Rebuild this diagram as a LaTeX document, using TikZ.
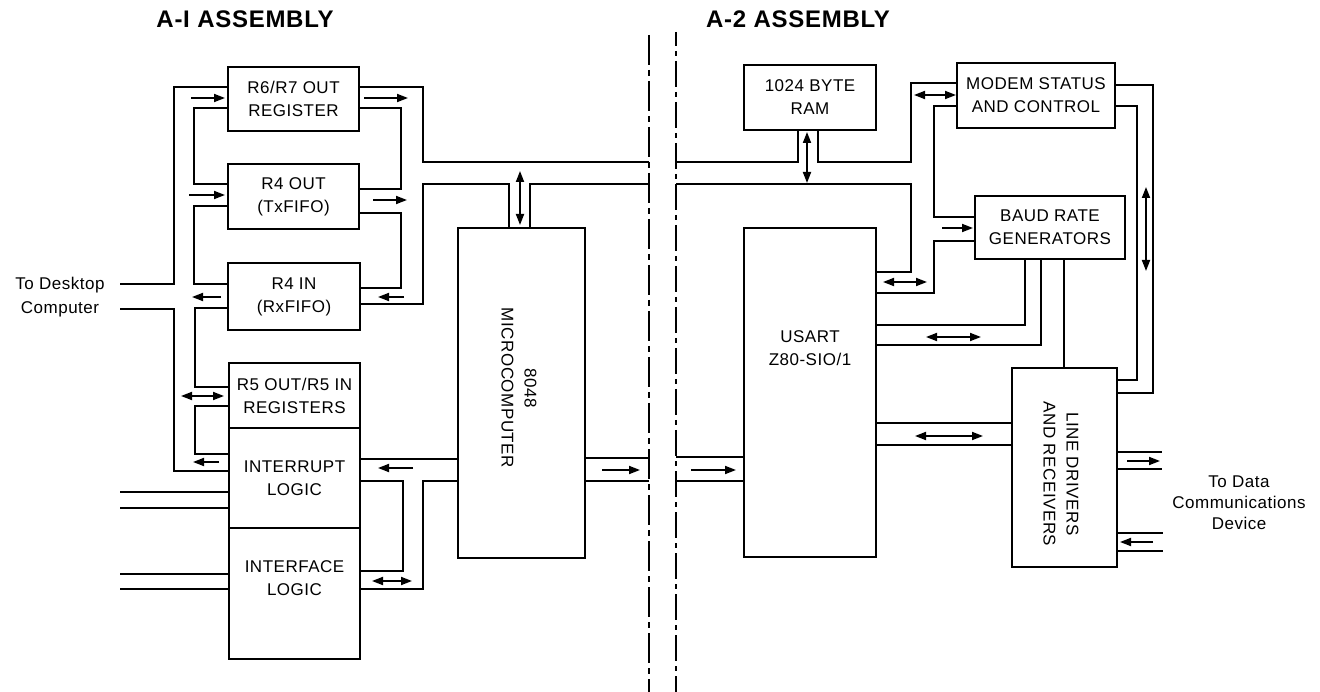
\documentclass[tikz,border=0pt]{standalone}
\usepackage{fontspec}
\setmainfont{Liberation Sans}[LetterSpace=3]
\usetikzlibrary{arrows.meta}
\newcommand\lblfont{\fontsize{17pt}{23pt}\selectfont}
\newcommand\ttlfont{\fontsize{24pt}{28pt}\selectfont\bfseries}
\tikzset{
  box/.style={draw, line width=1.8pt, inner sep=0pt, outer sep=0pt, anchor=north west, align=center, font=\lblfont},
  txt/.style={inner sep=0pt, align=center, font=\lblfont},
  bus/.style={line width=1.8pt, line join=miter},
  sig/.style={line width=1.8pt, -{Triangle[length=11pt,width=8pt]}},
  bidir/.style={line width=1.8pt, {Triangle[length=11pt,width=8pt]}-{Triangle[length=11pt,width=8pt]}},
  divA/.style={line width=1.8pt, dash pattern=on 30pt off 5pt on 6pt off 5pt},
  divB/.style={line width=1.8pt, dash pattern=on 26pt off 5pt on 5pt off 5pt, dash phase=12pt}
}
\begin{document}
\begin{tikzpicture}[x=1pt,y=-1pt]
\useasboundingbox (0,0) rectangle (1320,692);
% titles
\node[font=\ttlfont, inner sep=0pt] (t1) at (245,19) {A-I ASSEMBLY};
\node[font=\ttlfont, inner sep=0pt] (t2) at (798,19) {A-2 ASSEMBLY};
% divider lines
\coordinate (dA1) at (649,35); \coordinate (dA2) at (649,692);
\coordinate (dB1) at (676,32); \coordinate (dB2) at (676,692);
\draw[divA] (dA1) -- (dA2);
\draw[divB] (dB1) -- (dB2);
% boxes A-1
\node[box, minimum width=131pt, minimum height=64pt] (r67) at (228,67) {R6/R7 OUT\\REGISTER};
\node[box, minimum width=131pt, minimum height=65pt] (r4o) at (228,164) {R4 OUT\\(TxFIFO)};
\node[box, minimum width=132pt, minimum height=67pt] (r4i) at (228,263) {R4 IN\\(RxFIFO)};
\node[box, minimum width=131pt, minimum height=65pt] (r5) at (229,363) {R5 OUT/R5 IN\\REGISTERS};
\node[box, minimum width=131pt, minimum height=100pt] (intr) at (229,428) {INTERRUPT\\LOGIC};
\node[box, minimum width=131pt, minimum height=131pt] (intf) at (229,528) {};
\node[txt] (intft) at (294.5,578) {INTERFACE\\LOGIC};
\node[box, minimum width=127pt, minimum height=330pt] (mc) at (458,228) {};
\node[txt, rotate=-90] (mct) at (519,388) {8048\\MICROCOMPUTER};
% boxes A-2
\node[box, minimum width=132pt, minimum height=65pt] (ram) at (744,65) {1024 BYTE\\RAM};
\node[box, minimum width=158pt, minimum height=65pt] (modem) at (957,63) {MODEM STATUS\\AND CONTROL};
\node[box, minimum width=150pt, minimum height=63pt] (baud) at (975,196) {BAUD RATE\\GENERATORS};
\node[box, minimum width=132pt, minimum height=329pt] (usart) at (744,228) {};
\node[txt] (usartt) at (810,348) {USART\\Z80-SIO/1};
\node[box, minimum width=105pt, minimum height=199pt] (line) at (1012,368) {};
\node[txt, rotate=-90] (linet) at (1061,474) {LINE DRIVERS\\AND RECEIVERS};
% side labels
\node[txt, font=\fontsize{17pt}{24pt}\selectfont] (desk) at (60,297) {To Desktop\\Computer};
\node[txt, font=\fontsize{17pt}{21pt}\selectfont] (dcd) at (1239,503) {To Data\\Communications\\Device};

% ---------- A-1 buses ----------
\draw[bus] (120,284) -- (174,284) -- (174,87) -- (228,87);
\draw[bus] (120,309) -- (174,309) -- (174,471) -- (229,471);
\draw[bus] (228,108) -- (194,108) -- (194,184) -- (228,184);
\draw[sig] (191,98) -- (225,98);
\draw[bus] (228,206) -- (194,206) -- (194,284) -- (228,284);
\draw[sig] (189,195) -- (225,195);
\draw[bus] (228,308) -- (195,308) -- (195,387) -- (229,387);
\draw[sig] (221,297) -- (192,297);
\draw[bus] (229,406) -- (195,406) -- (195,454) -- (229,454);
\draw[bidir] (181,396) -- (224,396);
\draw[sig] (219,462) -- (193,462);
% right of registers
\draw[bus] (359,87) -- (423,87) -- (423,162) -- (649,162);
\draw[sig] (364,98) -- (408,98);
\draw[bus] (359,108) -- (401,108) -- (401,189) -- (359,189);
\draw[bus] (359,213) -- (401,213) -- (401,288) -- (360,288);
\draw[sig] (373,200) -- (407,200);
\draw[bus] (360,304) -- (423,304) -- (423,184) -- (509,184) -- (509,228);
\draw[sig] (404,297) -- (378,297);
\draw[bus] (530,228) -- (530,184) -- (649,184);
\draw[bidir] (520,171) -- (520,225);
% interrupt / interface to 8048
\draw[bus] (360,459) -- (458,459);
\draw[sig] (413,468) -- (378,468);
\draw[bus] (360,481) -- (403,481) -- (403,571) -- (360,571);
\draw[bus] (458,481) -- (423,481) -- (423,589) -- (360,589);
\draw[bidir] (372,581) -- (412,581);
\draw[bus] (120,492) -- (229,492);
\draw[bus] (120,508) -- (229,508);
\draw[bus] (120,574) -- (229,574);
\draw[bus] (120,589) -- (229,589);
% 8048 right
\draw[bus] (585,458) -- (649,458);
\draw[bus] (585,481) -- (649,481);
\draw[sig] (602,470) -- (640,470);

% ---------- A-2 buses ----------
\draw[bus] (676,457) -- (744,457);
\draw[bus] (676,481) -- (744,481);
\draw[sig] (691,470) -- (736,470);
\draw[bus] (676,162) -- (798,162) -- (798,130);
\draw[bus] (818,130) -- (818,162) -- (911,162) -- (911,83) -- (957,83);
\draw[bidir] (807,132) -- (807,183);
\draw[bus] (676,184) -- (911,184) -- (911,272) -- (876,272);
\draw[bidir] (914,95) -- (956,95);
\draw[bus] (957,106) -- (934,106) -- (934,217) -- (975,217);
\draw[sig] (942,228) -- (973,228);
\draw[bus] (975,241) -- (934,241) -- (934,293) -- (876,293);
\draw[bidir] (883,282) -- (927,282);
\draw[bus] (1025,259) -- (1025,325) -- (876,325);
\draw[bus] (1041,259) -- (1041,345) -- (876,345);
\draw[bidir] (926,337) -- (981,337);
\draw[bus] (1064,259) -- (1064,368);
\draw[bus] (876,423) -- (1012,423);
\draw[bus] (876,445) -- (1012,445);
\draw[bidir] (915,436) -- (983,436);
\draw[bus] (1115,85) -- (1153,85) -- (1153,393) -- (1117,393);
\draw[bus] (1115,106) -- (1137,106) -- (1137,380) -- (1117,380);
\draw[bidir] (1146,187) -- (1146,271);
\draw[bus] (1117,452) -- (1162,452);
\draw[bus] (1117,469) -- (1162,469);
\draw[sig] (1127,461) -- (1160,461);
\draw[bus] (1117,533) -- (1163,533);
\draw[bus] (1117,551) -- (1163,551);
\draw[sig] (1153,542) -- (1120,542);
\end{tikzpicture}
\end{document}
